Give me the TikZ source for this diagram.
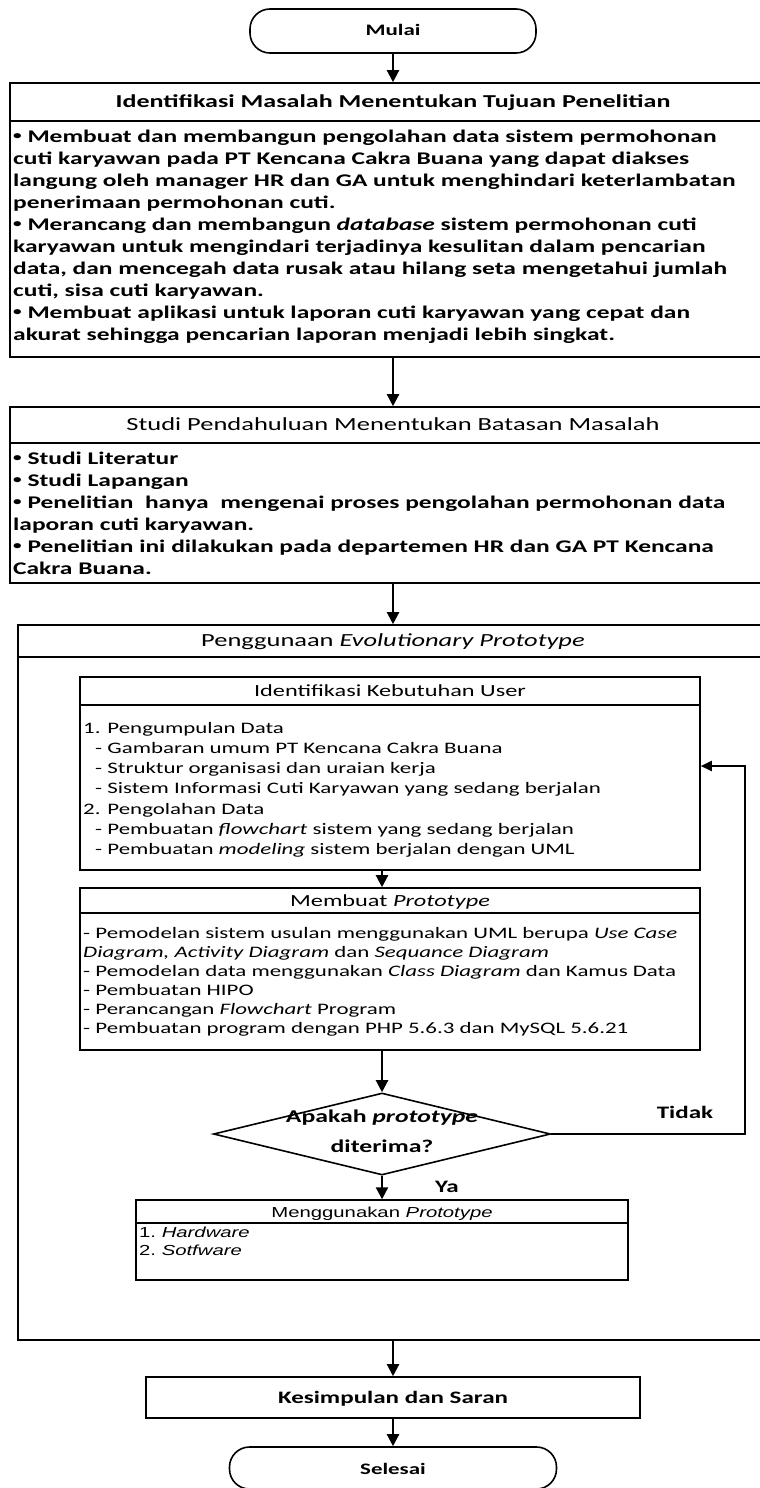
\documentclass[tikz,border=0pt]{standalone}
\usepackage{fontspec}
\setmainfont{Carlito}[FakeStretch=1.43]
\newfontfamily\arialx{Liberation Sans}[FakeStretch=1.4]
\usetikzlibrary{arrows.meta,shapes.geometric}
\newcommand{\mybul}{\raisebox{0.25ex}{\fontsize{12}{12}\selectfont •}}
\begin{document}
\begin{tikzpicture}[x=1pt,y=-1pt,
 box/.style={draw,line width=1.6pt,rectangle,inner sep=0pt},
 term/.style={draw,line width=1.6pt,rectangle,rounded corners=20pt,inner sep=0pt},
 arr/.style={line width=2.2pt,-{Triangle[length=12pt,width=12pt]}},
 fb/.style={line width=2pt,-{Triangle[length=11pt,width=10pt]}},
 div/.style={line width=1.6pt},
 hd/.style={font=\fontsize{18.5}{22}\selectfont,anchor=base,inner sep=0pt},
 hdb/.style={font=\fontsize{18.2}{22}\selectfont\bfseries,anchor=base,inner sep=0pt},
 bl/.style={font=\fontsize{17.8}{22}\selectfont\bfseries,anchor=base west,inner sep=0pt},
 il/.style={font=\fontsize{16}{20}\selectfont,anchor=base west,inner sep=0pt},
 ihd/.style={font=\fontsize{17}{20}\selectfont,anchor=base,inner sep=0pt},
 al/.style={font=\arialx\fontsize{14.5}{17}\selectfont,anchor=base west,inner sep=0pt},
 ahd/.style={font=\arialx\fontsize{14.5}{17}\selectfont,anchor=base,inner sep=0pt},
 lbl/.style={font=\fontsize{17.5}{20}\selectfont\bfseries,anchor=base,inner sep=0pt},
]
\useasboundingbox (0,0) rectangle (760,1488);
\clip (0,0) rectangle (760,1488);
\fill[white] (0,0) rectangle (760,1488);

% terminators and boxes
\node[term,minimum width=286pt,minimum height=44pt] (mulai) at (393,31) {};
\node[lbl,font=\fontsize{16}{20}\selectfont\bfseries] (mulaiT) at (393,36) {Mulai};

\node[box,minimum width=766pt,minimum height=274pt] (box1) at (393,220) {};
\draw[div] (box1.west |- 0,121) -- (box1.east |- 0,121);
\node[hdb] (box1h) at (393,107) {Identifikasi Masalah Menentukan Tujuan Penelitian};
\foreach \t [count=\i from 0] in {
 {\mybul\ Membuat dan membangun pengolahan data sistem permohonan},
 {cuti karyawan pada PT Kencana Cakra Buana yang dapat diakses},
 {langung oleh manager HR dan GA untuk menghindari keterlambatan},
 {penerimaan permohonan cuti.},
 {\mybul\ Merancang dan membangun \textit{database} sistem permohonan cuti},
 {karyawan untuk mengindari terjadinya kesulitan dalam pencarian},
 {data, dan mencegah data rusak atau hilang seta mengetahui jumlah},
 {cuti, sisa cuti karyawan.},
 {\mybul\ Membuat aplikasi untuk laporan cuti karyawan yang cepat dan},
 {akurat sehingga pencarian laporan menjadi lebih singkat.}}
 {\node[bl] (b1l\i) at (13,{142+22*\i}) {\t};}

\node[box,minimum width=766pt,minimum height=176pt] (box2) at (393,495) {};
\draw[div] (box2.west |- 0,443) -- (box2.east |- 0,443);
\node[hd] (box2h) at (393,430) {Studi Pendahuluan Menentukan Batasan Masalah};
\foreach \t [count=\i from 0] in {
 {\mybul\ Studi Literatur},
 {\mybul\ Studi Lapangan},
 {\mybul\ Penelitian\ \ hanya\ \ mengenai proses pengolahan permohonan data},
 {laporan cuti karyawan.},
 {\mybul\ Penelitian ini dilakukan pada departemen HR dan GA PT Kencana},
 {Cakra Buana.}}
 {\node[bl] (b2l\i) at (13,{464+22*\i}) {\t};}

\node[box,minimum width=750pt,minimum height=715pt] (outer) at (393,982.5) {};
\draw[div] (outer.west |- 0,657) -- (outer.east |- 0,657);
\node[hd] (outerh) at (393,646) {Penggunaan \textit{Evolutionary Prototype}};

\node[box,minimum width=620pt,minimum height=193pt] (innerA) at (390,773.5) {};
\draw[div] (innerA.west |- 0,705) -- (innerA.east |- 0,705);
\node[ihd] (innerAh) at (390,696) {Identifikasi Kebutuhan User};
\foreach \t/\x [count=\i from 0] in {
 {1. Pengumpulan Data}/83,
 {- Gambaran umum PT Kencana Cakra Buana}/95,
 {- Struktur organisasi dan uraian kerja}/95,
 {- Sistem Informasi Cuti Karyawan yang sedang berjalan}/95,
 {2. Pengolahan Data}/83,
 {- Pembuatan \textit{flowchart} sistem yang sedang berjalan}/95,
 {- Pembuatan \textit{modeling} sistem berjalan dengan UML}/95}
 {\node[il] (iAl\i) at (\x,{733+20.3*\i}) {\t};}

\node[box,minimum width=620pt,minimum height=162pt] (membuat) at (390,969) {};
\draw[div] (membuat.west |- 0,913) -- (membuat.east |- 0,913);
\node[ihd] (membuath) at (390,906) {Membuat \textit{Prototype}};
\foreach \t [count=\i from 0] in {
 {- Pemodelan sistem usulan menggunakan UML berupa \textit{Use Case}},
 {\textit{Diagram, Activity Diagram} dan \textit{Sequance Diagram}},
 {- Pemodelan data menggunakan \textit{Class Diagram} dan Kamus Data},
 {- Pembuatan HIPO},
 {- Perancangan \textit{Flowchart} Program},
 {- Pembuatan program dengan PHP 5.6.3 dan MySQL 5.6.21}}
 {\node[il] (mbl\i) at (83,{938+19*\i}) {\t};}

\node[draw,line width=1.6pt,diamond,minimum width=337pt,minimum height=82pt,inner sep=0pt] (dia) at (382,1134) {};
\node[lbl,font=\fontsize{18}{20}\selectfont\bfseries] (diaT1) at (382,1122) {Apakah \textit{prototype}};
\node[lbl,font=\fontsize{18}{20}\selectfont\bfseries] (diaT2) at (382,1152) {diterima?};

\node[box,line width=1.4pt,minimum width=492pt,minimum height=80pt] (pakai) at (382,1240) {};
\draw[line width=1.4pt] (pakai.west |- 0,1223) -- (pakai.east |- 0,1223);
\node[ahd] (pakaih) at (382,1217) {Menggunakan \textit{Prototype}};
\node[al] (pakai1) at (139,1237) {1.\ \textit{Hardware}};
\node[al] (pakai2) at (139,1255) {2.\ \textit{Sotfware}};

\node[box,minimum width=494pt,minimum height=41pt] (kes) at (393,1397.5) {};
\node[lbl] (kesT) at (393,1403) {Kesimpulan dan Saran};
\node[term,minimum width=327pt,minimum height=42pt] (selesai) at (393,1468) {};
\node[lbl,font=\fontsize{16}{20}\selectfont\bfseries] (selesaiT) at (393,1474) {Selesai};

% connectors
\draw[arr] (mulai) -- (box1);
\draw[arr] (box1) -- (box2);
\draw[arr] (box2) -- (outer.north -| box2.south);
\draw[arr] (innerA.south -| dia.north) -- (membuat.north -| dia.north);
\draw[arr] (membuat.south -| dia.north) -- (dia.north);
\draw[arr] (dia.south) -- (pakai.north);
\node[lbl] (ya) at (447,1192) {Ya};
\coordinate (fb1) at (745,1134);
\coordinate (fb2) at (745,766);
\draw[fb] (dia.east) -- (fb1) -- (fb2) -- (innerA.east |- fb2);
\node[lbl] (tidak) at (685,1118) {Tidak};
\draw[arr] (outer.south -| kes.north) -- (kes.north);
\draw[arr] (kes) -- (selesai);
\end{tikzpicture}
\end{document}
